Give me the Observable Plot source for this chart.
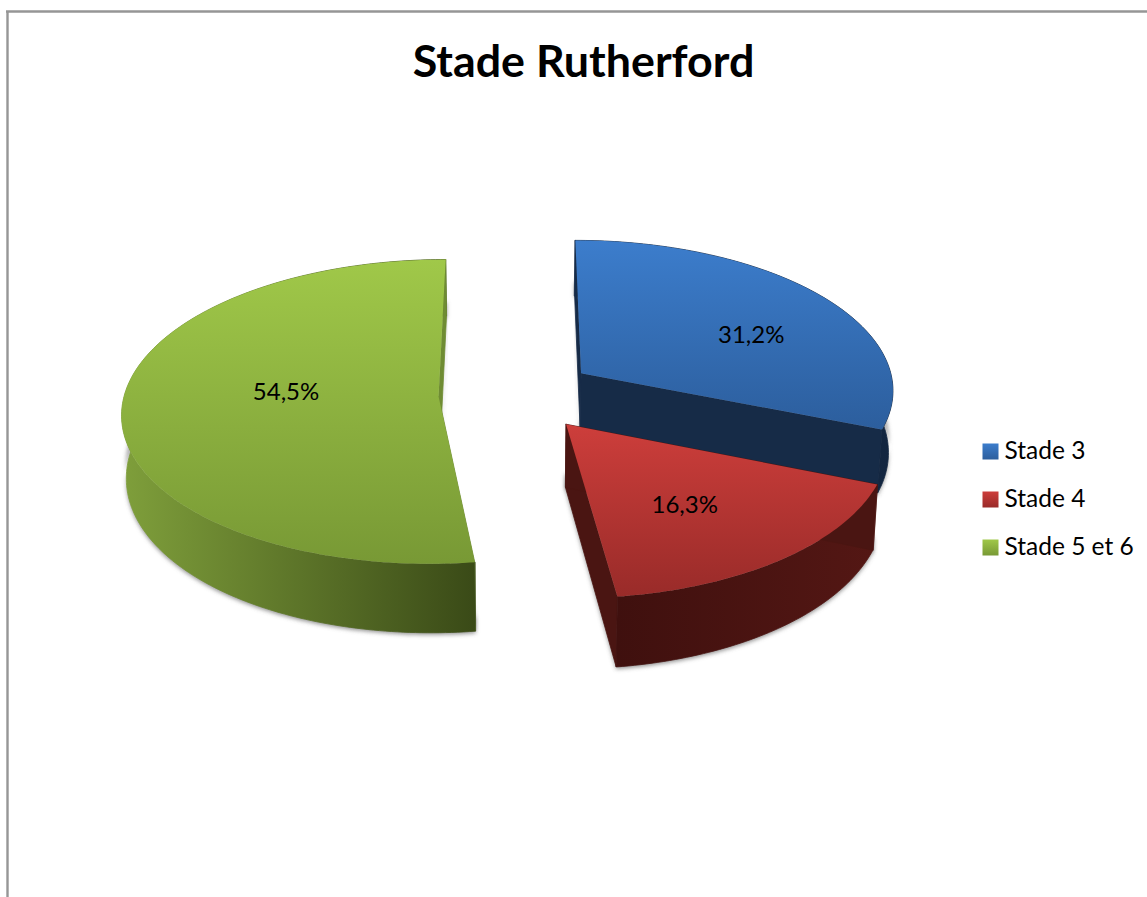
<!DOCTYPE html>
<html lang="fr">
<head>
<meta charset="utf-8">
<script src="https://cdn.jsdelivr.net/npm/d3@7"></script>
<script src="https://cdn.jsdelivr.net/npm/@observablehq/plot@0.6"></script>
<style>html,body{margin:0;padding:0;background:#fff;overflow:hidden}svg{display:block}</style>
</head>
<body>
<div id="chart"></div>
<script>
const title = "Stade Rutherford";
const categories = ["Stade 3", "Stade 4", "Stade 5 et 6"];
// shares as drawn in the picture
const drawnShares = [31.05, 16.9, 52.05];
// labels as printed in the picture
const valueLabels = ["31,2%", "16,3%", "54,5%"];
const topColors = [["#3c7dcc", "#2c5e9d"], ["#cd3e3b", "#992b29"], ["#a0c849", "#789935"]];
const wallColors = [["#172c48", "#132640"], ["#3f100e", "#541714"], ["#7f9f3b", "#3a4a17"]];
const cutColors = ["#162b47", "#4a1512", "#6f8c33"];
const explodeTurn = [0, 0, 0];
const labelReach = [0.63, 0.6, 0.49];
const labelTurn = [8.5, 3, 7.5];

// view of the tilted pie
const W = 1147, H = 897;
const cx = 517, cy = 394, R = 314, tilt = 0.478, persp = 0.1, depth = 62, explode = 0.25, startDeg = 0, lowScale = 0.988;

const rad = d => d * Math.PI / 180;
const project = (px, py) => {
  const w = 1 - persp * py;
  const x = cx + R * px / w, y = cy + R * tilt * py / w;
  return {x, y, xLow: cx + (x - cx) * lowScale, yLow: y + depth / w};
};
const pieGen = d3.pie().sort(null).startAngle(rad(startDeg)).endAngle(rad(startDeg + 360));
const arcs = pieGen(drawnShares);

const slices = arcs.map((a, i) => {
  const mid = (a.startAngle + a.endAngle) / 2;
  const ex = mid + rad(explodeTurn[i]);
  const ox = explode * Math.sin(ex), oy = -explode * Math.cos(ex);
  const apex = project(ox, oy);
  const n = Math.ceil((a.endAngle - a.startAngle) / rad(1));
  const rim = d3.range(n + 1).map(j => {
    const t = a.startAngle + (a.endAngle - a.startAngle) * j / n;
    return project(ox + Math.sin(t), oy - Math.cos(t));
  });
  const lt = mid + rad(labelTurn[i]);
  const lab = project(ox + labelReach[i] * Math.sin(lt), oy - labelReach[i] * Math.cos(lt));
  return {i, apex, rim, label: {x: lab.x, y: lab.y, text: valueLabels[i]}};
});

function gradient(defs, id, stops, horizontal) {
  const g = defs.append("linearGradient").attr("id", id)
    .attr("x1", 0).attr("y1", 0).attr("x2", horizontal ? 1 : 0).attr("y2", horizontal ? 0 : 1);
  stops.forEach((c, k) => g.append("stop").attr("offset", k / (stops.length - 1)).attr("stop-color", c));
}
const defsMark = () => {
  const defs = d3.create("svg:defs");
  topColors.forEach((c, i) => gradient(defs, `top${i}`, c, false));
  wallColors.forEach((c, i) => gradient(defs, `wall${i}`, c, true));
  const f = defs.append("filter").attr("id", "soft").attr("x", "-10%").attr("y", "-10%").attr("width", "120%").attr("height", "120%");
  f.append("feGaussianBlur").attr("stdDeviation", 2.2);
  return defs.node();
};
const blurred = (index, scales, values, dims, ctx, next) => {
  const g = next(index, scales, values, dims, ctx);
  g.setAttribute("filter", "url(#soft)");
  return g;
};

const wall = {x1: "x", y1: "y", x2: "xLow", y2: "yLow"};
const shadowMarks = slices.flatMap(s => {
  const first = s.rim[0], last = s.rim[s.rim.length - 1];
  const shade = {x1: "xLow", y1: d => d.yLow - depth * 0.25, x2: "xLow", y2: "yLow", fill: "#6e6e6e", fillOpacity: 0.75, dy: 2, render: blurred};
  return [
    Plot.area([first, s.apex], shade),
    Plot.area([s.apex, last], shade),
    Plot.area(s.rim, shade)
  ];
});
const sliceMarks = slices.flatMap(s => {
  const first = s.rim[0], last = s.rim[s.rim.length - 1];
  const [front, back] = first.y > last.y ? [first, last] : [last, first];
  const c = cutColors[s.i];
  return [
    Plot.area([s.apex, front], {...wall, fill: c, stroke: c, strokeWidth: 0.8}),
    Plot.area(s.rim, {...wall, fill: `url(#wall${s.i})`, stroke: `url(#wall${s.i})`, strokeWidth: 0.8}),
    Plot.area([back, s.apex], {...wall, fill: c, stroke: c, strokeWidth: 0.8}),
    Plot.area(s.rim, {x1: () => s.apex.x, y1: () => s.apex.y, x2: "x", y2: "y", fill: `url(#top${s.i})`})
  ];
});

const legendRows = categories.map((name, i) => ({name, i, x: 990, y: 451 + 48 * i}));
const font = "Lato, 'Open Sans', sans-serif";

const plot = Plot.plot({
  width: W, height: H, margin: 0,
  x: {domain: [0, W], range: [0, W], axis: null},
  y: {domain: [0, H], range: [0, H], axis: null},
  style: {background: "#fff"},
  marks: [
    defsMark,
    Plot.ruleX([7], {y1: 11, y2: H, stroke: "#969696", strokeWidth: 2.4}),
    Plot.ruleY([11], {x1: 6, x2: W, stroke: "#969696", strokeWidth: 2.4}),
    Plot.text([title], {x: () => 583, y: () => 62, text: d => d, fontFamily: font, fontWeight: 700, fontSize: 44.8, fill: "#000", textAnchor: "middle", lineAnchor: "middle"}),
    ...shadowMarks,
    ...sliceMarks,
    Plot.text(slices.map(s => s.label), {x: "x", y: "y", text: "text", fontFamily: font, fontSize: 24, fill: "#000", textAnchor: "middle", lineAnchor: "middle"}),
    Plot.dot(legendRows, {x: "x", y: "y", symbol: "square", r: 9.03, fill: d => `url(#top${d.i})`}),
    Plot.text(legendRows, {x: () => 1004, y: "y", text: "name", fontFamily: font, fontSize: 24.5, fill: "#000", textAnchor: "start", lineAnchor: "middle"})
  ]
});
document.getElementById("chart").append(plot);
</script>
</body>
</html>
